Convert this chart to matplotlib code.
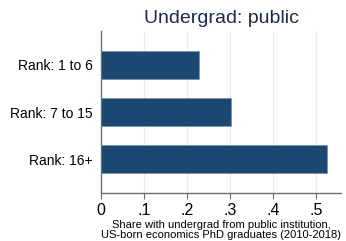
import matplotlib

matplotlib.use("Agg")
import matplotlib.pyplot as plt

categories = ["Rank: 1 to 6", "Rank: 7 to 15", "Rank: 16+"]
shares = [0.228, 0.302, 0.526]
xticks = [0, 0.1, 0.2, 0.3, 0.4, 0.5]
xtick_labels = ["0", ".1", ".2", ".3", ".4", ".5"]

BAR = "#1c4770"
GRID = "#e6eef3"

plt.rcParams["font.family"] = ["Liberation Sans", "DejaVu Sans"]

fig = plt.figure(figsize=(3.46, 2.41), dpi=100)
ax = fig.add_axes([101 / 346, 1 - 193 / 241, 240 / 346, 162 / 241])

ypos = list(range(len(categories)))
ax.barh(ypos, shares, height=0.6, color=BAR, edgecolor="#6f8aa5", linewidth=0.4, zorder=3)
ax.set_ylim(len(categories) - 1 + 0.72, -0.72)
ax.set_xlim(0, 0.558)
ax.set_yticks(ypos, categories)
ax.set_xticks(xticks, xtick_labels)

ax.grid(axis="x", color=GRID, linewidth=0.9, zorder=0)
ax.set_axisbelow(True)
for side in ("top", "right"):
    ax.spines[side].set_visible(False)
for side in ("left", "bottom"):
    ax.spines[side].set_color("#6e6e6e")
    ax.spines[side].set_linewidth(1.0)

ax.tick_params(axis="y", length=0, pad=6, labelsize=10, labelcolor="black")
ax.tick_params(axis="x", length=4, width=0.8, color="#6e6e6e", pad=3, labelsize=11.5)

ax.set_xlabel(
    "Share with undergrad from public institution,\nUS-born economics PhD graduates (2010-2018)",
    fontsize=8,
    labelpad=2,
    linespacing=1.0,
)
ax.set_title("Undergrad: public", fontsize=14, color="#1b2a4e", pad=6)

fig.savefig("out.png", dpi=100)
